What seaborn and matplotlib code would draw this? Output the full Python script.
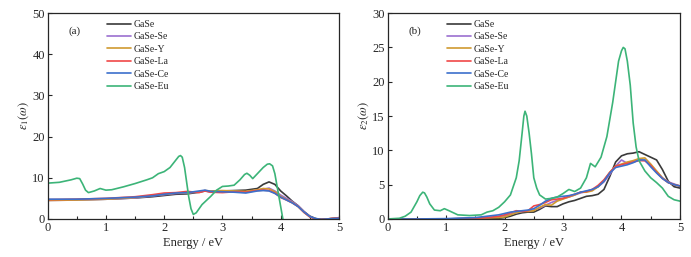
import seaborn as sns
import matplotlib.pyplot as plt
from matplotlib.ticker import MultipleLocator

# Energía (eV) y constantes dieléctricas
labels = ["GaSe", "GaSe-Se", "GaSe-Y", "GaSe-La", "GaSe-Ce", "GaSe-Eu"]
colors = ["#3a3a3a", "#9b6fd0", "#d09a30", "#f04848", "#3c70cc", "#3cb478"]

# (a) parte real
e1_x = [0, 0.5, 1.0, 1.5, 1.8, 2.0, 2.2, 2.4, 2.6, 2.7, 2.8, 3.0, 3.2, 3.4,
        3.6, 3.7, 3.8, 3.9, 4.0, 4.1, 4.2, 4.3, 4.4, 4.5, 4.6, 4.7, 4.8, 5.0]
e1_gase = [4.6, 4.7, 4.8, 5.1, 5.4, 5.7, 6.0, 6.1, 6.5, 6.8, 6.6, 6.8, 6.9, 7.0,
           7.4, 8.4, 9.0, 8.4, 6.8, 5.6, 4.3, 3.2, 1.8, 0.7, 0.1, -0.1, 0.0, 0.2]
e1_se = [4.5, 4.6, 4.8, 5.1, 5.6, 5.9, 6.2, 6.3, 6.6, 6.9, 6.6, 6.6, 6.7, 6.6,
         7.0, 7.2, 7.5, 6.8, 5.8, 5.0, 4.2, 3.2, 1.8, 0.6, 0.0, -0.1, 0.0, 0.3]
e1_y = [4.5, 4.6, 4.8, 5.2, 5.7, 6.0, 6.3, 6.4, 6.6, 6.9, 6.8, 6.9, 6.8, 6.7,
        7.1, 7.4, 7.3, 6.6, 5.5, 4.7, 4.0, 3.0, 1.6, 0.5, 0.0, -0.1, 0.0, 0.3]
e1_la = [4.7, 4.8, 5.0, 5.4, 5.9, 6.3, 6.4, 6.7, 6.4, 6.8, 6.5, 6.4, 6.6, 6.5,
         6.9, 7.0, 6.9, 6.3, 5.2, 4.6, 3.9, 3.0, 1.6, 0.5, 0.0, -0.1, 0.0, 0.3]
e1_ce = [4.8, 4.8, 5.0, 5.3, 5.6, 6.0, 6.3, 6.4, 6.8, 7.0, 6.7, 6.6, 6.5, 6.3,
         6.8, 6.9, 6.8, 6.2, 5.3, 4.6, 3.9, 3.0, 1.7, 0.6, 0.1, -0.1, 0.0, 0.2]

e1_eu_x = [0, 0.2, 0.4, 0.5, 0.55, 0.6, 0.65, 0.7, 0.8, 0.9, 1.0, 1.1, 1.3,
           1.5, 1.7, 1.8, 1.9, 2.0, 2.1, 2.2, 2.25, 2.28, 2.31, 2.35, 2.38,
           2.42, 2.46, 2.5, 2.55, 2.65, 2.8, 2.9, 3.0, 3.1, 3.2, 3.3, 3.38,
           3.42, 3.47, 3.52, 3.6, 3.7, 3.77, 3.81, 3.86, 3.9, 3.95, 4.0, 4.05,
           4.1]
e1_eu = [8.7, 8.9, 9.5, 9.9, 9.8, 8.5, 7.0, 6.4, 6.8, 7.4, 7.0, 7.1, 7.8,
         8.6, 9.5, 10.0, 11.0, 11.5, 12.5, 14.3, 15.2, 15.4, 15.0, 12.5, 9.5,
         5.5, 2.5, 1.1, 1.5, 3.5, 5.5, 7.0, 7.9, 8.0, 8.2, 9.5, 10.8, 11.1,
         10.6, 9.8, 11.0, 12.5, 13.3, 13.4, 12.9, 11.0, 7.0, 3.0, -1.0, -5.0]

# (b) parte imaginaria
e2_x = [0, 0.5, 1.0, 1.5, 1.7, 1.9, 2.0, 2.1, 2.2, 2.3, 2.4, 2.5, 2.6, 2.7,
        2.8, 2.9, 3.0, 3.1, 3.2, 3.3, 3.4, 3.5, 3.6, 3.7, 3.8, 3.9, 4.0, 4.1,
        4.2, 4.3, 4.4, 4.5, 4.6, 4.7, 4.8, 4.9, 5.0]
e2_gase = [0, 0, 0, 0.05, 0.1, 0.1, 0.2, 0.4, 0.7, 0.9, 1.0, 1.0, 1.4, 1.9,
           1.8, 1.8, 2.2, 2.5, 2.7, 3.0, 3.3, 3.4, 3.6, 4.3, 6.2, 8.3, 9.2, 9.5,
           9.6, 9.8, 9.4, 9.0, 8.6, 7.2, 5.5, 4.7, 4.5]
e2_se = [0, 0, 0, 0.1, 0.2, 0.3, 0.5, 0.7, 0.9, 1.1, 1.2, 1.3, 1.6, 2.0,
         2.4, 2.7, 3.0, 3.2, 3.5, 3.8, 4.0, 4.3, 4.7, 5.4, 6.5, 7.7, 8.6, 8.1,
         8.3, 8.6, 8.5, 7.8, 6.9, 6.0, 5.4, 5.1, 4.8]
e2_y = [0, 0, 0, 0.1, 0.15, 0.2, 0.3, 0.6, 0.9, 1.1, 1.1, 1.2, 1.7, 2.1,
        2.0, 2.6, 2.9, 3.2, 3.5, 3.9, 3.9, 4.1, 4.7, 5.6, 6.8, 7.7, 8.0, 8.3,
        8.5, 8.8, 8.9, 8.0, 7.0, 6.0, 5.3, 5.0, 4.8]
e2_la = [0, 0, 0, 0.1, 0.2, 0.4, 0.6, 0.9, 1.2, 1.1, 1.2, 1.9, 2.1, 2.4,
         2.8, 2.9, 3.0, 3.3, 3.6, 3.9, 4.0, 4.3, 4.9, 5.7, 6.8, 7.7, 7.9, 8.1,
         8.3, 8.5, 8.5, 7.8, 6.8, 5.9, 5.3, 5.0, 4.8]
e2_ce = [0, 0, 0.05, 0.2, 0.4, 0.6, 0.8, 1.0, 1.1, 1.2, 1.3, 1.5, 2.0, 2.6,
         3.0, 3.2, 3.3, 3.4, 3.6, 3.9, 4.1, 4.3, 4.7, 5.5, 6.7, 7.5, 7.7, 7.9,
         8.2, 8.6, 8.6, 7.6, 6.7, 5.9, 5.3, 5.0, 4.8]

e2_eu_x = [0, 0.2, 0.3, 0.4, 0.5, 0.55, 0.6, 0.63, 0.67, 0.72, 0.8, 0.9, 0.97,
           1.05, 1.2, 1.4, 1.6, 1.7, 1.8, 1.9, 2.0, 2.1, 2.2, 2.25, 2.3, 2.33,
           2.35, 2.38, 2.42, 2.46, 2.5, 2.55, 2.6, 2.7, 2.8, 2.9, 3.0, 3.1,
           3.2, 3.3, 3.4, 3.47, 3.55, 3.65, 3.75, 3.85, 3.9, 3.95, 4.0, 4.03,
           4.06, 4.1, 4.15, 4.2, 4.25, 4.3, 4.4, 4.5, 4.6, 4.7, 4.8, 4.9, 5.0]
e2_eu = [0, 0.1, 0.4, 1.0, 2.5, 3.4, 3.9, 3.8, 3.2, 2.2, 1.3, 1.2, 1.5,
         1.2, 0.6, 0.5, 0.6, 1.0, 1.2, 1.7, 2.5, 3.5, 6.0, 8.5, 12.5, 15.0,
         15.7, 15.0, 12.5, 9.5, 6.0, 4.5, 3.5, 2.9, 3.0, 3.2, 3.7, 4.3,
         4.0, 4.5, 6.0, 8.1, 7.6, 9.0, 12.0, 17.0, 20.0, 23.0, 24.5, 25.0,
         24.8, 23.0, 19.5, 14.0, 10.5, 8.5, 7.0, 6.0, 5.3, 4.5, 3.3, 2.8, 2.6]

sns.set_style("ticks")
plt.rcParams["font.family"] = ["Liberation Serif", "DejaVu Serif"]
plt.rcParams["mathtext.fontset"] = "stix"

fig = plt.figure(figsize=(6.91, 2.57), dpi=100)
ax1 = fig.add_axes([0.069, 0.148, 0.4215, 0.801])
ax2 = fig.add_axes([0.561, 0.148, 0.423, 0.801])

panel_a = [(e1_x, e1_gase), (e1_x, e1_se), (e1_x, e1_y), (e1_x, e1_la),
           (e1_x, e1_ce), (e1_eu_x, e1_eu)]
panel_b = [(e2_x, e2_gase), (e2_x, e2_se), (e2_x, e2_y), (e2_x, e2_la),
           (e2_x, e2_ce), (e2_eu_x, e2_eu)]

for ax, series, ymax, ystep, tag, ylab in [
        (ax1, panel_a, 50, 10, "(a)", r"$\varepsilon_1(\omega)$"),
        (ax2, panel_b, 30, 5, "(b)", r"$\varepsilon_2(\omega)$")]:
    for (x, y), lab, col in zip(series, labels, colors):
        sns.lineplot(x=x, y=y, ax=ax, color=col, label=lab, lw=1.2, sort=False)
    ax.set_xlim(0, 5)
    ax.set_ylim(0, ymax)
    ax.xaxis.set_major_locator(MultipleLocator(1))
    ax.xaxis.set_minor_locator(MultipleLocator(0.5))
    ax.yaxis.set_major_locator(MultipleLocator(ystep))
    ax.tick_params(which="both", direction="in", labelsize=9, pad=2)
    ax.tick_params(which="major", length=3, width=0.8)
    ax.tick_params(which="minor", length=2, width=0.8)
    for s in ax.spines.values():
        s.set_linewidth(0.9)
    ax.set_xlabel("Energy / eV", fontsize=9, labelpad=2)
    ax.set_ylabel(ylab, fontsize=9, labelpad=1)
    ax.text(0.07, 0.91, tag, transform=ax.transAxes, fontsize=8, va="center")
    ax.legend(loc="upper left", bbox_to_anchor=(0.18, 1.0), frameon=False,
              fontsize=7, handlelength=2.5, handletextpad=0.2,
              labelspacing=0.35, borderaxespad=0.3)

fig.savefig("out.png", dpi=100)
